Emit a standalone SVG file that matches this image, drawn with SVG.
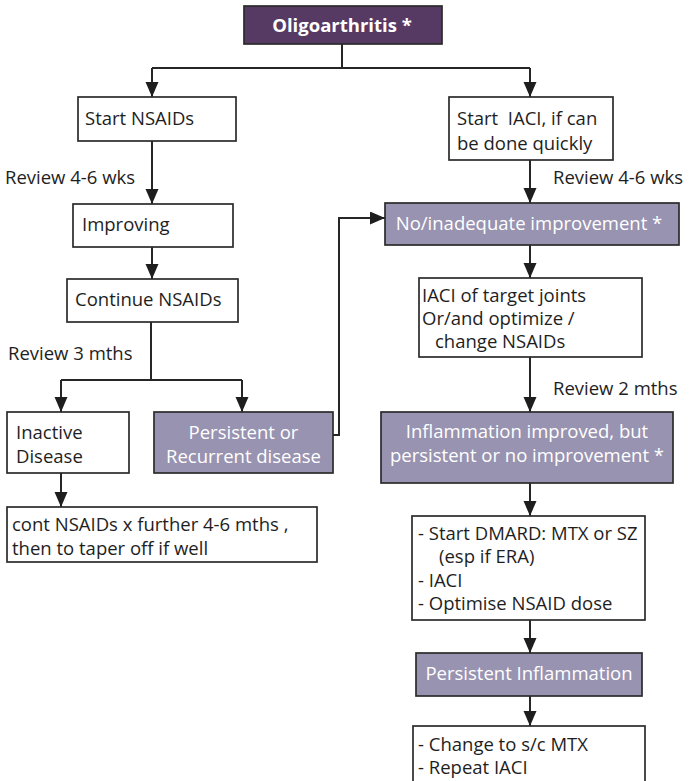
<svg xmlns="http://www.w3.org/2000/svg" width="689" height="781" viewBox="0 0 689 781">
<style>
  .box{fill:#ffffff;stroke:#2b2b2b;stroke-width:1.7}
  .hl{fill:#9893b0;stroke:#2b2b2b;stroke-width:1.7}
  .title{fill:#573a64;stroke:#2b2b2b;stroke-width:1.7}
  text{font-family:"Open Sans","Noto Sans","Liberation Sans",sans-serif;font-size:18.5px;fill:#1e1e1e}
  .w{fill:#ffffff}
  .b{font-weight:bold}
  .c{text-anchor:middle}
  .ln{fill:none;stroke:#262626;stroke-width:2}
  .ar{fill:none;stroke:#262626;stroke-width:2;marker-end:url(#ah)}
</style>
<defs>
  <marker id="ah" markerUnits="userSpaceOnUse" markerWidth="15" markerHeight="14" viewBox="0 0 15 14" refX="15" refY="6.5" orient="auto">
    <path d="M0,0 L15,6.5 L0,13 z" fill="#1e1e1e"/>
  </marker>
</defs>

<g id="connectors">
  <path class="ln" d="M342,44 V68 M152,68 H530"/>
  <path class="ar" d="M152,68 V97"/>
  <path class="ar" d="M530,68 V97"/>
  <path class="ar" d="M152,141 V204"/>
  <path class="ar" d="M530,160 V203"/>
  <path class="ar" d="M152,247 V279"/>
  <path class="ln" d="M151,322 V380 M61,380 H242"/>
  <path class="ar" d="M61,380 V412"/>
  <path class="ar" d="M242,380 V412"/>
  <path class="ar" d="M333,435 H339 V218 H385"/>
  <path class="ar" d="M61,473 V507"/>
  <path class="ar" d="M530,245 V278"/>
  <path class="ar" d="M530,357 V412"/>
  <path class="ar" d="M530,483 V516"/>
  <path class="ar" d="M530,620 V653"/>
  <path class="ar" d="M530,696 V726"/>
  <text x="5" y="184">Review 4-6 wks</text>
  <text x="553" y="184">Review 4-6 wks</text>
  <text x="8" y="360">Review 3 mths</text>
  <text x="553" y="395">Review 2 mths</text>
</g>

<g id="oligoarthritis">
  <rect class="title" x="244" y="6" width="198" height="38"/>
  <text class="w b c" x="342" y="32">Oligoarthritis *</text>
</g>

<g id="start-nsaids">
  <rect class="box" x="78" y="97" width="158" height="44"/>
  <text x="85" y="125">Start NSAIDs</text>
</g>

<g id="start-iaci">
  <rect class="box" x="449" y="97" width="164" height="63"/>
  <text x="457" y="125" xml:space="preserve">Start  IACI, if can</text>
  <text x="457" y="150">be done quickly</text>
</g>

<g id="improving">
  <rect class="box" x="73" y="204" width="160" height="43"/>
  <text x="82" y="231">Improving</text>
</g>

<g id="continue-nsaids">
  <rect class="box" x="67" y="279" width="171" height="43"/>
  <text x="75" y="306">Continue NSAIDs</text>
</g>

<g id="inactive">
  <rect class="box" x="7" y="412" width="122" height="61"/>
  <text x="16" y="439">Inactive</text>
  <text x="16" y="463">Disease</text>
</g>

<g id="persistent-recurrent">
  <rect class="hl" x="154" y="412" width="179" height="61"/>
  <text class="w c" x="243.5" y="439">Persistent or</text>
  <text class="w c" x="243.5" y="463">Recurrent disease</text>
</g>

<g id="cont-nsaids">
  <rect class="box" x="7" y="507" width="310" height="55"/>
  <text x="12" y="531">cont NSAIDs x further 4-6 mths ,</text>
  <text x="12" y="555">then to taper off if well</text>
</g>

<g id="no-inadequate">
  <rect class="hl" x="385" y="203" width="294" height="42"/>
  <text class="w c" x="529" y="230">No/inadequate improvement *</text>
</g>

<g id="iaci-target">
  <rect class="box" x="419" y="278" width="223" height="79"/>
  <text x="422" y="302">IACI of target joints</text>
  <text x="422" y="325">Or/and optimize /</text>
  <text x="435" y="348">change NSAIDs</text>
</g>

<g id="inflammation-improved">
  <rect class="hl" x="381" y="412" width="292" height="71"/>
  <text class="w c" x="527" y="438">Inflammation improved, but</text>
  <text class="w c" x="527" y="462">persistent or no improvement *</text>
</g>

<g id="dmard">
  <rect class="box" x="412" y="516" width="233" height="104"/>
  <text x="418" y="540">- Start DMARD: MTX or SZ</text>
  <text x="439" y="563">(esp if ERA)</text>
  <text x="418" y="587">- IACI</text>
  <text x="418" y="610">- Optimise NSAID dose</text>
</g>

<g id="persistent-inflammation">
  <rect class="hl" x="416" y="653" width="226" height="43"/>
  <text class="w c" x="529" y="680">Persistent Inflammation</text>
</g>

<g id="change-mtx">
  <rect class="box" x="413" y="726" width="232" height="70"/>
  <text x="418" y="751">- Change to s/c MTX</text>
  <text x="418" y="774">- Repeat IACI</text>
</g>
</svg>
